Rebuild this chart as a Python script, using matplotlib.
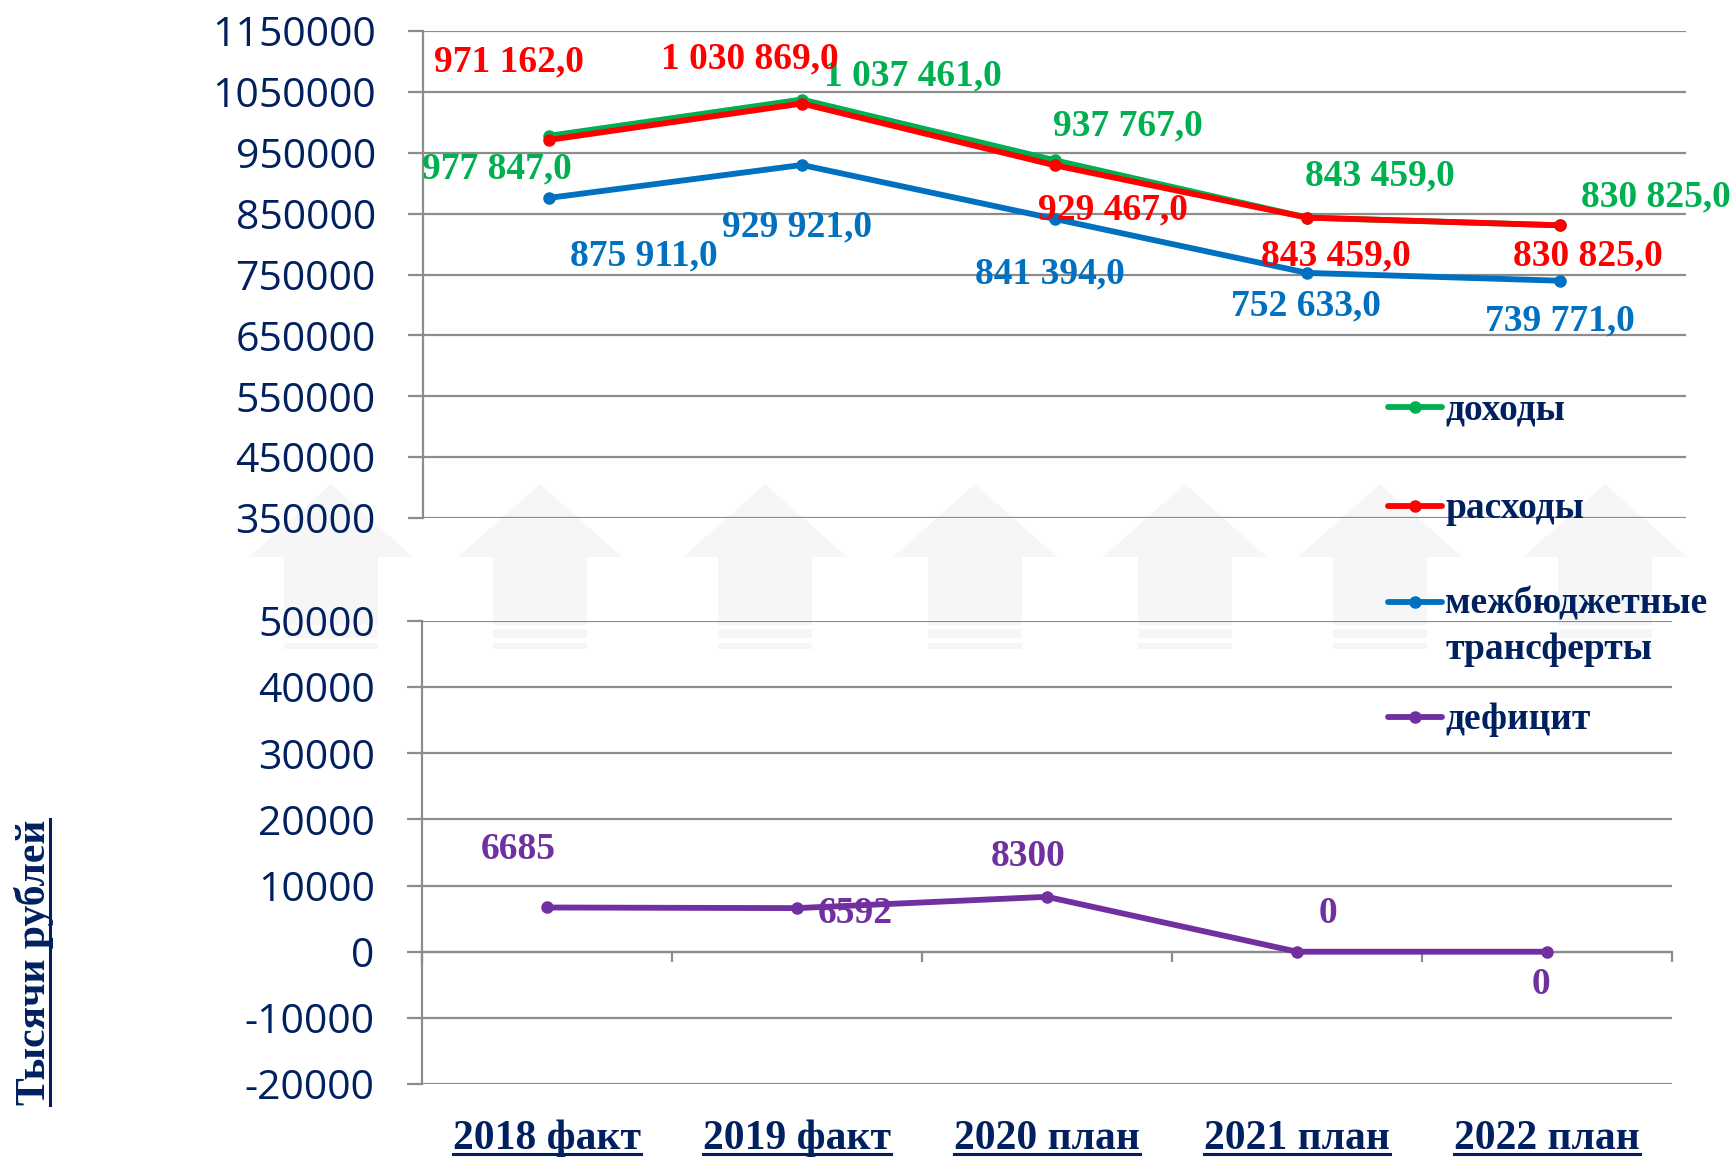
import numpy as np
import matplotlib
matplotlib.use('Agg')
import matplotlib.pyplot as plt
from matplotlib.lines import Line2D
from matplotlib.patches import Polygon, Rectangle

categories = ['2018 факт', '2019 факт', '2020 план', '2021 план', '2022 план']
income = [977847, 1037461, 937767, 843459, 830825]
expenses = [971162, 1030869, 929467, 843459, 830825]
transfers = [875911, 929921, 841394, 752633, 739771]
deficit = [6685, 6592, 8300, 0, 0]

top_ticks = list(range(350000, 1150001, 100000))
bottom_ticks = list(range(-20000, 50001, 10000))

# label offsets in pixels (dx, dy) from the point
income_off = [(-52, -33), (111, 24), (73, 34), (73, 42), (96, 28)]
expenses_off = [(-40, 78), (-52, 45), (58, -45), (29, -38), (28, -31)]
transfers_off = [(95, -58), (-5, -62), (-5, -55), (-1, -33), (0, -40)]
deficit_off = [(-29, 58), (58, -5), (-19, 40), (31, 38), (-6, -33)]

GREEN, RED, BLUE, PURPLE = '#00B050', '#FF0000', '#0070C0', '#7030A0'
NAVY = '#002060'
GRID = '#8C8C8C'
FAINT = '#F6F6F6'
SERIF = 'Liberation Serif'
SANS = 'Open Sans'

W, H = 1735, 1157
fig = plt.figure(figsize=(W / 100, H / 100), dpi=100)


def fx(px):
    return px / W


def fy(py):
    return 1 - py / H


# faint background arrows (decoration)
arrow_x = [331, 540, 765, 975, 1185, 1380, 1605]
for cx in arrow_x:
    pts = [(fx(cx - 82), fy(557)), (fx(cx), fy(484)), (fx(cx + 82), fy(557))]
    fig.add_artist(Polygon(pts, closed=True, transform=fig.transFigure,
                           color=FAINT, lw=0, zorder=-1))
    for y0, y1 in [(556, 625), (629, 638), (643, 649)]:
        fig.add_artist(Rectangle((fx(cx - 47), fy(y1)), 94 / W, (y1 - y0) / H,
                                 transform=fig.transFigure, color=FAINT,
                                 lw=0, zorder=-1))

ax1 = fig.add_axes([fx(423), fy(518), (1686 - 423) / W, (518 - 31) / H])
ax2 = fig.add_axes([fx(422), fy(1084), (1672 - 422) / W, (1084 - 621) / H])

x = np.arange(len(categories))


def fmt(v):
    return f'{v:,.1f}'.replace(',', ' ').replace('.', ',')


def style_axis(ax, ticks):
    ax.set_facecolor('none')
    ax.set_xlim(-0.5, len(categories) - 0.5)
    ax.set_ylim(ticks[0], ticks[-1])
    ax.set_yticks(ticks)
    ax.set_yticklabels([str(t) for t in ticks], fontsize=29.5, color=NAVY,
                       family=SANS)
    ax.yaxis.grid(True, color=GRID, lw=1.6)
    ax.set_axisbelow(True)
    ax.tick_params(axis='y', length=11, width=1.6, color=GRID, pad=23)
    for s in ['top', 'right']:
        ax.spines[s].set_visible(False)
    ax.spines['left'].set_color(GRID)
    ax.spines['left'].set_linewidth(1.6)


style_axis(ax1, top_ticks)
ax1.spines['bottom'].set_visible(False)
ax1.tick_params(axis='x', bottom=False, labelbottom=False)

style_axis(ax2, bottom_ticks)
ax2.spines['bottom'].set_position(('data', 0))
ax2.spines['bottom'].set_color(GRID)
ax2.spines['bottom'].set_linewidth(1.6)
ax2.set_xticks(np.arange(-0.5, len(categories), 1.0))
ax2.set_xticklabels([])
ax2.tick_params(axis='x', length=7, width=1.6, color=GRID, direction='out')

series = [
    (ax1, income, GREEN, income_off, fmt, 3),
    (ax1, expenses, RED, expenses_off, fmt, 4),
    (ax1, transfers, BLUE, transfers_off, fmt, 3),
    (ax2, deficit, PURPLE, deficit_off, str, 3),
]
for ax, vals, col, offs, f, z in series:
    ax.plot(x, vals, color=col, lw=4.2, marker='o', ms=8, clip_on=False,
            zorder=z, solid_capstyle='round')
    for i, v in enumerate(vals):
        ax.annotate(f(v), (i, v), xytext=offs[i], textcoords='offset pixels',
                    ha='center', va='center', color=col, fontsize=27,
                    fontweight='bold', family=SERIF, zorder=6,
                    annotation_clip=False)

# category labels under bottom axis
cat_texts = []
for i, c in enumerate(categories):
    t = ax2.text(i, -0.1404, c, transform=ax2.get_xaxis_transform(),
                 ha='center', va='baseline', fontsize=30, fontweight='bold',
                 family=SERIF, color=NAVY)
    cat_texts.append(t)

ylab = fig.text(fx(45), fy(962), 'Тысячи рублей', rotation=90,
                rotation_mode='anchor', ha='center', va='baseline',
                fontsize=30, fontweight='bold', family=SERIF, color=NAVY)

# legend
legend_items = [('доходы', GREEN, 407), ('расходы', RED, 506),
                ('межбюджетные\nтрансферты', BLUE, 602), ('дефицит', PURPLE, 717)]
for lbl, col, y in legend_items:
    fig.add_artist(Line2D([fx(1388), fx(1442)], [fy(y), fy(y)], color=col,
                          lw=4.2, transform=fig.transFigure,
                          solid_capstyle='round'))
    fig.add_artist(Line2D([fx(1415)], [fy(y)], color=col, marker='o', ms=8,
                          transform=fig.transFigure))
    for k, line in enumerate(lbl.split('\n')):
        fig.text(fx(1445), fy(y + 12 + 45 * k), line, ha='left', va='baseline',
                 fontsize=27, fontweight='bold', family=SERIF, color=NAVY)

# underlines
fig.canvas.draw()
renderer = fig.canvas.get_renderer()
inv = fig.transFigure.inverted()
for t in cat_texts:
    bb = t.get_window_extent(renderer)
    base = t.get_transform().transform(t.get_position())[1] - 5
    p0 = inv.transform((bb.x0, base))
    p1 = inv.transform((bb.x1, base))
    fig.add_artist(Line2D([p0[0], p1[0]], [p0[1], p1[1]], color=NAVY, lw=2.2,
                          transform=fig.transFigure))
bb = ylab.get_window_extent(renderer)
bx = ylab.get_transform().transform(ylab.get_position())[0] + 5
p0 = inv.transform((bx, bb.y0))
p1 = inv.transform((bx, bb.y1))
fig.add_artist(Line2D([p0[0], p1[0]], [p0[1], p1[1]], color=NAVY, lw=2.2,
                      transform=fig.transFigure))

fig.savefig('out.png', dpi=100)
